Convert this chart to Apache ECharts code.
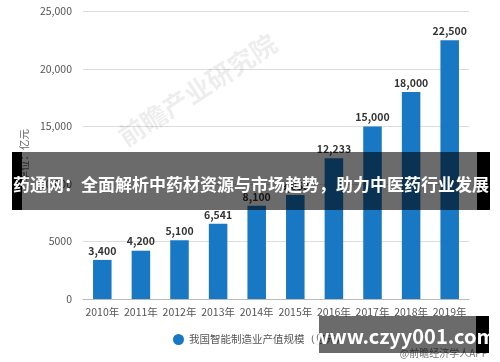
<!DOCTYPE html>
<html><head><meta charset="utf-8">
<script src="https://cdn.jsdelivr.net/npm/echarts@6/dist/echarts.min.js"></script>
<style>html,body{margin:0;padding:0;background:#fff}#c{width:500px;height:362px}</style>
</head><body><div id="c"></div>
<script>
const categories = ['2010年','2011年','2012年','2013年','2014年','2015年','2016年','2017年','2018年','2019年'];
const values = [3400, 4200, 5100, 6541, 8100, 9053, 12233, 15000, 18000, 22500];
const seriesName = '我国智能制造业产值规模（亿元）';
const bannerText = '药通网：全面解析中药材资源与市场趋势，助力中医药行业发展';
const siteText = 'www.czyy001.com';
const creditText = '@前瞻经济学人APP';

const fmt = v => v >= 10000 ? v.toLocaleString('en-US') : String(v);
const chart = echarts.init(document.getElementById('c'));
const F = '"Noto Sans CJK SC","Noto Sans",sans-serif';
chart.setOption({
  animation: false,
  textStyle: {fontFamily: F},
  grid: {left: 83, right: 31, top: 11.5, bottom: 63},
  xAxis: {
    type: 'category', data: categories,
    axisLine: {lineStyle: {color: '#bbb'}},
    axisTick: {show: false},
    axisLabel: {color: '#555', fontSize: 10.5, margin: 8, fontFamily: F, interval: 0}
  },
  yAxis: {
    type: 'value', min: 0, max: 25000, interval: 5000,
    name: '单位：亿元', nameLocation: 'middle', nameRotate: 90, nameGap: 54,
    nameTextStyle: {color: '#666', fontSize: 10.5},
    axisLine: {show: false}, axisTick: {show: false},
    axisLabel: {color: '#555', fontSize: 10.5, formatter: fmt, margin: 11},
    splitLine: {lineStyle: {color: '#ddd'}}
  },
  legend: {
    data: [{name: seriesName, icon: 'circle'}],
    left: 168, top: 329, itemWidth: 11, itemHeight: 11, itemGap: 6,
    textStyle: {color: '#555', fontSize: 10.5}
  },
  series: [{
    name: seriesName, type: 'bar', data: values, barWidth: '48%',
    itemStyle: {color: '#1878c4'},
    label: {show: true, position: 'top', color: '#333', fontWeight: 'bold', fontSize: 10.5,
      formatter: p => p.value.toLocaleString('en-US'), distance: 4}
  }],
  graphic: [
    {type: 'text', x: 128, y: 150, rotation: Math.PI/5.5,
      style: {text: '前瞻产业研究院', fill: 'rgba(0,0,0,0.07)', font: 'bold 26px ' + F, verticalAlign: 'bottom'}, z: 1},
    {type: 'rect', shape: {x: 12, y: 152, width: 10, height: 58}, style: {fill: '#000'}, z: 100},
    {type: 'rect', shape: {x: 22, y: 152, width: 455, height: 58}, style: {fill: 'rgba(0,0,0,0.58)'}, z: 100},
    {type: 'rect', shape: {x: 477, y: 152, width: 13, height: 58}, style: {fill: '#000'}, z: 100},
    {type: 'text', x: 251, y: 185, style: {text: bannerText, fill: '#fff', font: 'bold 17px ' + F, align: 'center', verticalAlign: 'middle'}, z: 101},
    {type: 'text', x: 488, y: 353, style: {text: creditText, fill: '#777', font: '10px ' + F, align: 'right', verticalAlign: 'middle'}, z: 99},
    {type: 'rect', shape: {x: 319, y: 316, width: 157, height: 37}, style: {fill: 'rgba(0,0,0,0.58)'}, z: 100},
    {type: 'rect', shape: {x: 476, y: 316, width: 13, height: 37}, style: {fill: '#000'}, z: 100},
    {type: 'text', x: 404, y: 336, style: {text: siteText, fill: '#fff', font: 'bold 20px ' + F, align: 'center', verticalAlign: 'middle'}, z: 101}
  ]
});
</script></body></html>
